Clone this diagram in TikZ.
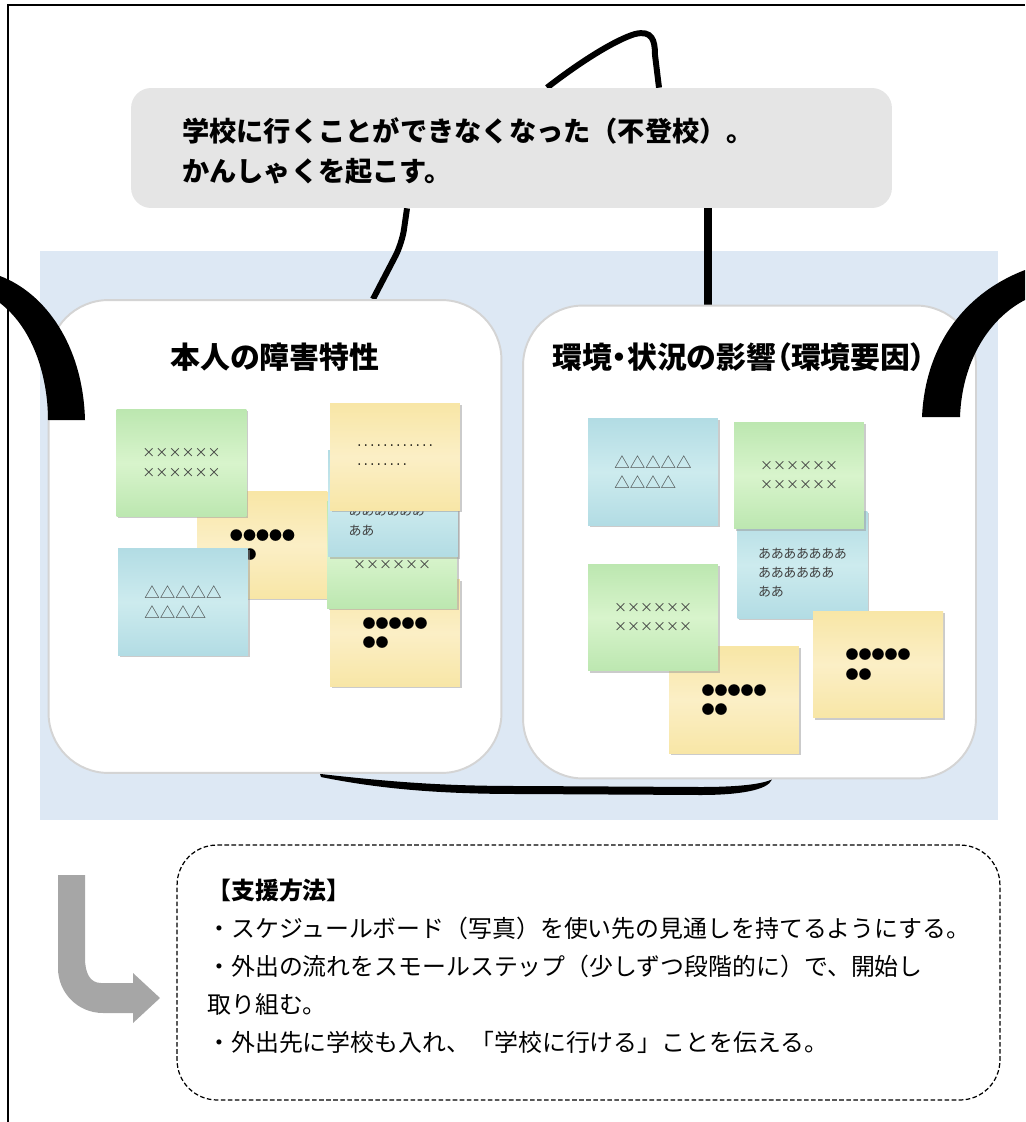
\documentclass[tikz,border=0pt]{standalone}
\usepackage{fontspec}
\setmainfont{Noto Sans CJK JP}
\newfontfamily\paltfont{Noto Sans CJK JP}[RawFeature=+palt]
\usepackage{xcolor}
\usetikzlibrary{calc, shadows, backgrounds}

\definecolor{BoardBlue}{HTML}{DDE8F4}
\definecolor{CauseGray}{HTML}{E5E5E5}
\definecolor{EdgeGray}{HTML}{D4D4D4}
\definecolor{ArrowGray}{HTML}{A6A6A6}
\definecolor{NoteText}{HTML}{404040}
\definecolor{GreenEdge}{HTML}{BCE7B0}
\definecolor{GreenMid}{HTML}{D8F4CC}
\definecolor{YellowEdge}{HTML}{F8E6A6}
\definecolor{YellowMid}{HTML}{FBEFC6}
\definecolor{BlueEdge}{HTML}{B2DCE4}
\definecolor{BlueMid}{HTML}{CDEBEE}

\newcommand\kanalift{\rule{0pt}{14.5pt}}

\tikzset{
  wire/.style={line width=3.4pt, black},
  causebox/.style={fill=CauseGray, rounded corners=0.4cm, minimum width=15.22cm, minimum height=2.4cm},
  groupbox/.style={draw=EdgeGray, line width=1.1pt, fill=white, rounded corners=1.2cm, minimum width=9.06cm, minimum height=9.46cm},
  grouptitle/.style={font=\paltfont\bfseries\fontsize{17pt}{20pt}\selectfont},
  supportbox/.style={draw, line width=0.7pt, dash pattern=on 2.6pt off 1.4pt, rounded corners=0.8cm, minimum width=16.46cm, minimum height=5.1cm},
  note/.style={minimum width=2.6cm, minimum height=2.14cm, inner sep=0pt, align=left, text=NoteText,
    font=\paltfont\fontsize{7.4pt}{11pt}\selectfont,
    drop shadow={shadow xshift=1.1pt, shadow yshift=-1.1pt, fill=black!40, opacity=0.5}},
  greennote/.style={note, top color=GreenEdge, bottom color=GreenEdge, middle color=GreenMid},
  yellownote/.style={note, top color=YellowEdge, bottom color=YellowEdge, middle color=YellowMid},
  bluenote/.style={note, top color=BlueEdge, bottom color=BlueEdge, middle color=BlueMid},
  dotnote/.style={yellownote, text=black},
  trinote/.style={bluenote, font=\paltfont\fontsize{8.8pt}{11.2pt}\selectfont}
}

\begin{document}
\begin{tikzpicture}[x=0.02cm, y=-0.02cm]
  \useasboundingbox (0,0) rectangle (1025,1122);

  \draw[line width=1.1pt] (8,1122) -- (8,5) -- (1025,5);

  \node[causebox] (cause) at (511.5,148) {};
  \node[anchor=west, align=left, font=\bfseries\fontsize{15.5pt}{22.7pt}\selectfont] (causetext) at (176,151)
    {学校に行くことができなくなった（不登校）。\\かんしゃくを起こす。};

  \node[groupbox] (person) at (275,536.5) {};
  \node[groupbox] (environment) at (749.5,542) {};
  \node[grouptitle] (persontitle) at (275,357) {本人の障害特性};
  \node[grouptitle] (envtitle) at (739,357) {環境・状況の影響（環境要因）};

  \node[dotnote] (ln2) at (262.5,545) {●●●●●\\\hspace*{1.05em}●};
  \node[greennote] (ln1) at (181.5,463) {××××××\\××××××};
  \node[trinote] (ln3) at (183,602) {△△△△△\\△△△△};
  \node[dotnote] (ln7) at (395,633) {●●●●●\\●●};
  \node[greennote] (ln6) at (392,555) {××××××\\××××××};
  \node[bluenote] (ln5) at (393,503.5) {\kanalift あああああああ\\ああああああ\\ああ};
  \node[dotnote] (ln4) at (395,457) {‥‥‥‥‥‥\\‥‥‥‥};

  \node[bluenote] (rn3) at (802.5,565) {\kanalift あああああああ\\ああああああ\\ああ};
  \node[greennote] (rn2) at (799,475.5) {××××××\\××××××};
  \node[trinote] (rn1) at (653,472) {△△△△△\\△△△△};
  \node[dotnote] (rn5) at (734,700) {●●●●●\\●●};
  \node[greennote] (rn4) at (653,617.5) {××××××\\××××××};
  \node[dotnote] (rn6) at (878,664.5) {●●●●●\\●●};

  \coordinate (loopA) at ($(cause.north)+(35.5,0)$);
  \coordinate (loopB) at ($(cause.north)+(147.5,0)$);
  \coordinate (causeL) at ($(cause.south)+(-104.5,0)$);
  \coordinate (causeR) at ($(cause.south)+(196.5,0)$);
  \coordinate (personT) at ($(person.north)+(98,0)$);
  \coordinate (envT) at (environment.north -| causeR);
  \coordinate (botA) at ($(person.south)+(45,0)$);
  \coordinate (botB) at ($(environment.south)+(22.5,0)$);

  \begin{pgfonlayer}{background}
    \fill[BoardBlue] (40,251) rectangle (998,820);
    \draw[wire] (loopA) .. controls (580,62) and (615,40) .. (635,34)
      .. controls (652,30) and (655,40) .. (655,55) -- (loopB);
    \draw[wire, rounded corners=8pt] (causeL) -- ++(-5,35) -- (personT);
    \draw[wire, line width=4.4pt] (causeR) -- (envT);
    \fill (botA) .. controls (400,783) and (450,786) .. (520,786) -- (700,787)
      .. controls (740,787) and (762,784) .. (botB)
      .. controls (768,790) and (740,795) .. (700,795) -- (520,794)
      .. controls (440,794) and (380,789) .. (321,777) -- cycle;
  \end{pgfonlayer}

  \fill (0,276) .. controls (45,293) and (83,345) .. (85,420) -- (48,420)
    .. controls (48,380) and (35,330) .. (0,303) -- cycle;
  \fill (922,417) .. controls (925,350) and (960,295) .. (1025,270) -- (1025,300)
    .. controls (990,318) and (962,360) .. (960,417) -- cycle;

  \fill[ArrowGray] (58,875) -- (85,875) -- (85,958) .. controls (85,973) and (90,983) .. (101,983)
    -- (133,983) -- (133,973) -- (160,998) -- (133,1023) -- (133,1013) -- (103,1013)
    .. controls (78,1013) and (58,993) .. (58,968) -- cycle;

  \node[supportbox] (support) at (588.5,972.5) {};
  \node[anchor=north west, align=left, inner sep=0pt, font=\fontsize{13.6pt}{21.5pt}\selectfont] (supporttext) at (207,879)
    {{\bfseries 【支援方法】}\\
     ・スケジュールボード（写真）を使い先の見通しを持てるようにする。\\
     ・外出の流れをスモールステップ（少しずつ段階的に）で、開始し\\
     取り組む。\\
     ・外出先に学校も入れ、「学校に行ける」ことを伝える。};
\end{tikzpicture}
\end{document}
